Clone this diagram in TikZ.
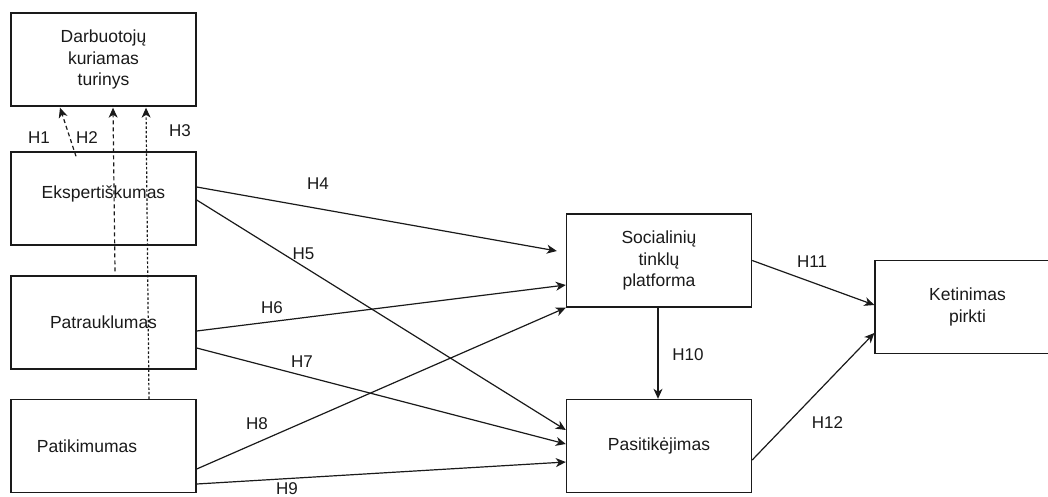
\documentclass[tikz,border=0pt]{standalone}
\usepackage{fontspec}
\setmainfont{Liberation Sans}
\usetikzlibrary{arrows.meta}
\definecolor{ink}{HTML}{1A1A1A}
\begin{document}
\begin{tikzpicture}[x=1pt,y=-1pt,
  box/.style={draw=ink,line width=1.4pt,minimum width=185pt,minimum height=93pt,inner sep=0pt,
    align=center,font=\fontsize{17.5}{21.5}\selectfont,text=ink},
  lbl/.style={inner sep=0pt,font=\fontsize{17}{20}\selectfont,text=ink},
  conn/.style={draw=ink,line width=1.2pt,-{Stealth[length=10pt,width=9pt,inset=3pt]}},
  dconn/.style={conn,dash pattern=on 4pt off 3pt},
  fconn/.style={conn,dash pattern=on 2.5pt off 2pt}]
\clip (0,0) rectangle (1048,497);
\fill[white] (0,0) rectangle (1048,497);
% boxes
\node[box] (D) at (103.5,59.5) {Darbuotojų\\kuriamas\\turinys};
\node[box] (E) at (103.5,198.5) {\raisebox{13pt}{Ekspertiškumas}};
\node[box] (Pa) at (103.5,322.5) {Patrauklumas};
\node[box] (Pt) at (103.5,446) {Patikimumas\hspace*{33pt}};
\node[box] (S) at (659,260.5) {Socialinių\\tinklų\\platforma};
\node[box] (Ps) at (659,446) {Pasitikėjimas};
\node[box] (K) at (967.5,307) {Ketinimas\\pirkti};
% dashed arrows
\draw[dconn] ([xshift=-27.5pt,yshift=-5pt]E.north) -- ([xshift=-43.5pt,yshift=-1pt]D.south);
\draw[dconn] ([xshift=11.5pt,yshift=4pt]Pa.north) -- ([xshift=9.5pt,yshift=-1pt]D.south);
\draw[fconn] ([xshift=45.5pt]Pt.north) -- ([xshift=42.5pt,yshift=-1pt]D.south);
% solid arrows
\draw[conn] ([yshift=11.5pt]E.east) -- ([xshift=-9pt,yshift=9.5pt]S.west);
\draw[conn] ([yshift=-1.5pt]E.east) -- ([yshift=16pt]Ps.west);
\draw[conn] ([yshift=-8.5pt]Pa.east) -- ([yshift=-24.5pt]S.west);
\draw[conn] ([yshift=-25.5pt]Pa.east) -- ([yshift=2pt]Ps.west);
\draw[conn] ([yshift=-23pt]Pt.east) -- (S.south west);
\draw[conn] ([yshift=-38pt]Pt.east) -- ([yshift=-16pt]Ps.west);
\draw[conn] ([xshift=-1pt]S.south) -- ([xshift=-1pt]Ps.north);
\draw[conn] (S.east) -- ([yshift=2pt]K.west);
\draw[conn] ([yshift=-14pt]Ps.east) -- ([yshift=-26pt]K.west);
% labels
\node[lbl] (h1) at (39,138) {H1};
\node[lbl] (h2) at (87,138) {H2};
\node[lbl] (h3) at (180,131) {H3};
\node[lbl] (h4) at (318,184) {H4};
\node[lbl] (h5) at (303.5,254) {H5};
\node[lbl] (h6) at (272,308) {H6};
\node[lbl] (h7) at (302,362) {H7};
\node[lbl] (h8) at (257,424) {H8};
\node[lbl,anchor=base] (h9) at (287,494.5) {H9};
\node[lbl] (h10) at (688,355) {H10};
\node[lbl] (h11) at (812,262) {H11};
\node[lbl] (h12) at (827.5,423) {H12};
\end{tikzpicture}
\end{document}
